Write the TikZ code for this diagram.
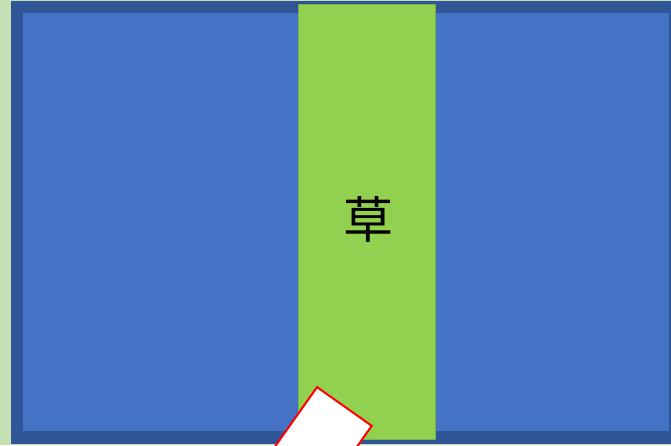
\documentclass[tikz,border=0pt]{standalone}
\usepackage{fontspec}
\newfontfamily\cjk{Noto Sans CJK SC}
\definecolor{bgreen}{RGB}{197,224,180}
\definecolor{fblue}{RGB}{47,85,151}
\definecolor{pblue}{RGB}{68,114,196}
\definecolor{ggreen}{RGB}{146,208,80}
\definecolor{gedge}{RGB}{120,180,70}
\usetikzlibrary{positioning}

\begin{document}
\begin{tikzpicture}[
  x=1pt,y=-1pt,
  framebox/.style={fill=fblue,draw=none},
  poolbox/.style={fill=pblue,draw=none},
  grassbox/.style={fill=ggreen,draw=gedge,line width=0.8pt},
  gatebox/.style={draw=red,fill=white,line width=2pt,minimum width=67pt,
                  minimum height=90pt,inner sep=0pt,rotate=-35.3},
]
  % Background
  \fill[bgreen] (0,0) rectangle (671,445);
  \useasboundingbox (0,0) rectangle (671,445);
  \clip (0,0) rectangle (671,445);

  % Frame and water
  \path[framebox] (11,1) rectangle (690,444);
  \path[poolbox] (23,13) rectangle (669,431);

  % Grass strip
  \path[grassbox] (298,4) rectangle (435.5,439);
  \node[font=\cjk\fontsize{50}{50}\selectfont] (grass) at (368,219) {草};

  % Gate
  \node[gatebox] (gate) at (318.4,443.2) {};
\end{tikzpicture}
\end{document}
